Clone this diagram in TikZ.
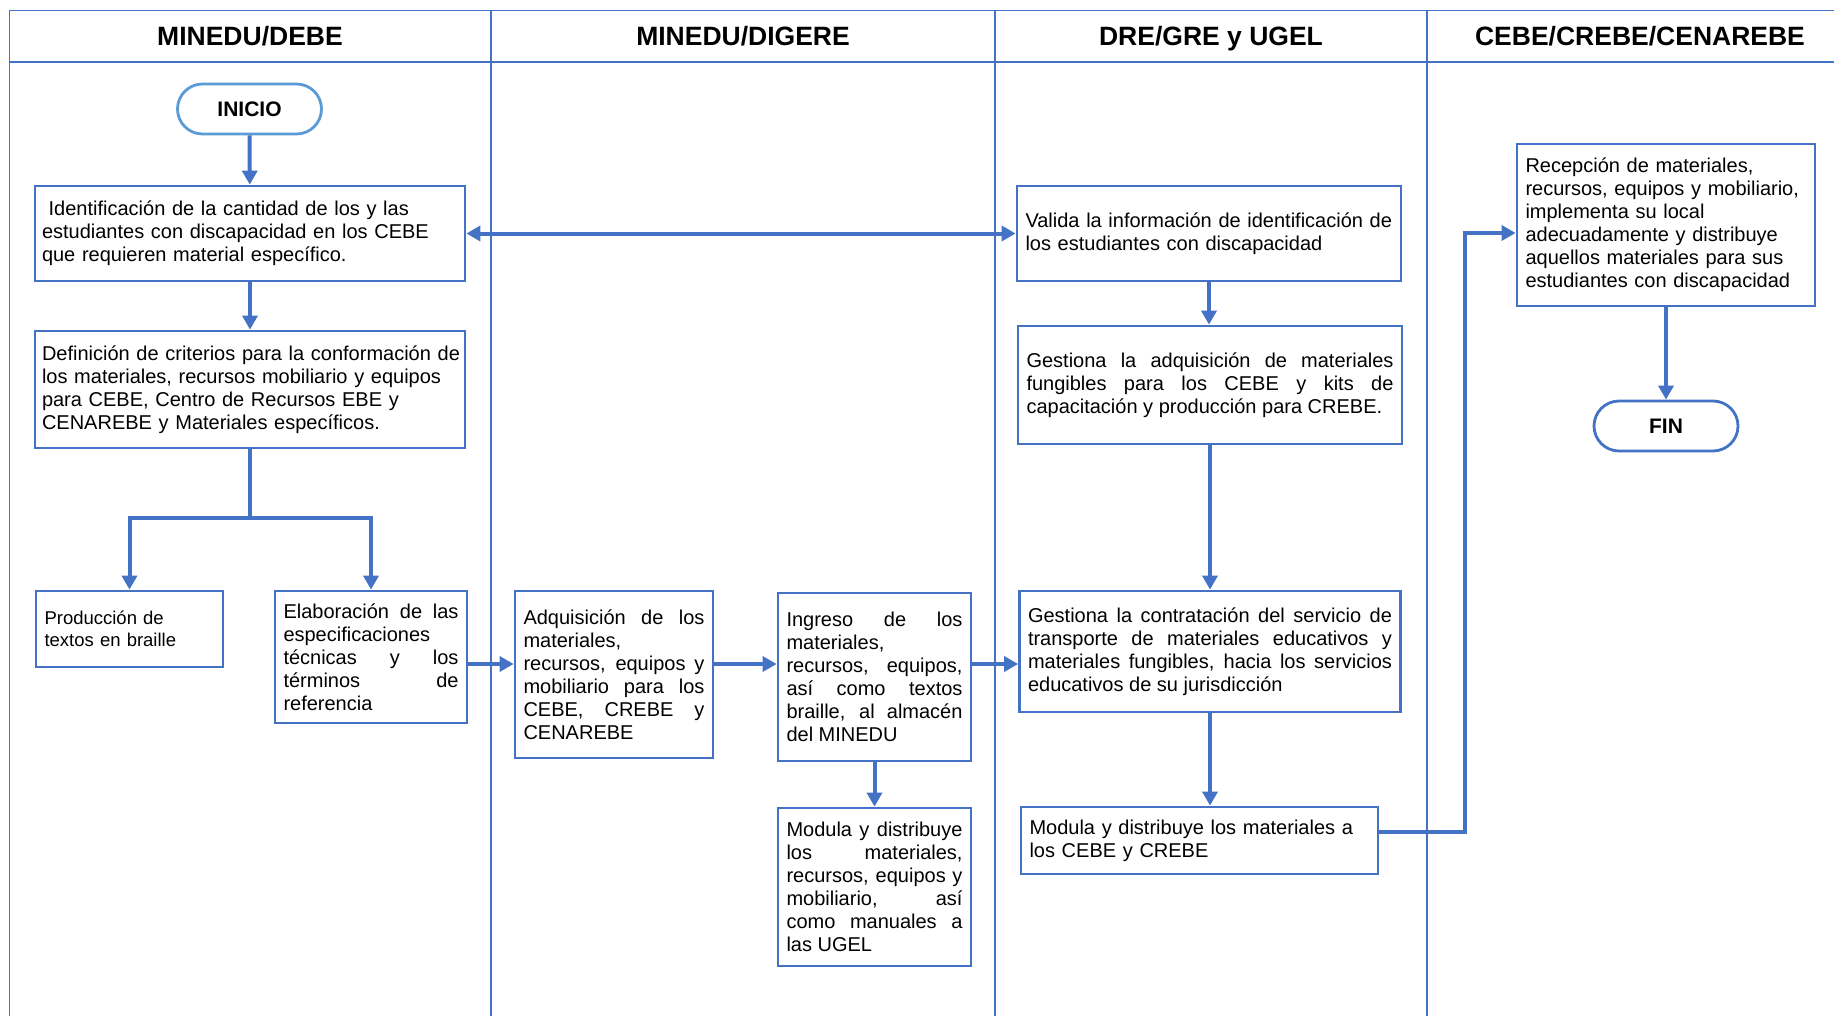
\documentclass[tikz,border=0pt]{standalone}
\usepackage{fontspec}
\setmainfont{Liberation Sans}
\usepackage{tikz}
\usetikzlibrary{arrows.meta}
\definecolor{laneblue}{HTML}{4472C4}
\definecolor{startblue}{HTML}{5B9BD5}
\tolerance=10000
\hbadness=10000
\hyphenpenalty=10000
\exhyphenpenalty=10000

\begin{document}
\begin{tikzpicture}[x=0.5pt,y=-0.5pt,
  lane/.style={draw=laneblue,line width=0.9pt},
  lanehead/.style={anchor=base,font=\bfseries\fontsize{13.25}{15}\selectfont},
  stepbox/.style={draw=laneblue,line width=1.4pt,fill=white,inner xsep=4.25pt,inner ysep=2pt,font=\fontsize{10}{11.5}\selectfont},
  jbox/.style={stepbox,align=justify},
  lbox/.style={stepbox,align=left},
  terminal/.style={draw=laneblue,line width=1.4pt,fill=white,rounded corners=12.5pt,minimum width=72pt,minimum height=25pt,font=\bfseries\fontsize{10.5}{12}\selectfont},
  flow/.style={draw=laneblue,line width=2pt,-{Triangle[length=7pt,width=7.5pt]}},
  both/.style={flow,{Triangle[length=7pt,width=7.5pt]}-{Triangle[length=7pt,width=7.5pt]}}]
\useasboundingbox (0,0) rectangle (1834,1016);

\draw [lane] (9.5,1016) -- (9.5,10.5) -- (1834,10.5);
\draw [lane] (9.5,62) -- (1834,62);
\draw [lane] (491,10.5) -- (491,1016);
\draw [lane] (995,10.5) -- (995,1016);
\draw [lane] (1427,10.5) -- (1427,1016);
\node [lanehead] (debe) at (250,45.5) {MINEDU/DEBE};
\node [lanehead] (digere) at (743,45.5) {MINEDU/DIGERE};
\node [lanehead] (ugel) at (1211,45.5) {DRE/GRE y UGEL};
\node [lanehead] (cebe) at (1640,45.5) {CEBE/CREBE/CENAREBE};

\node [terminal,draw=startblue] (inicio) at (249.5,109) {INICIO};
\node [lbox,text width=208pt,inner xsep=3.5pt,minimum height=47.5pt] (ident) at (250,233.5) {\ Identificación de la cantidad de los y las\\estudiantes con discapacidad en los CEBE\\que requieren material específico.};
\node [lbox,text width=208pt,inner xsep=3.5pt,minimum height=58.5pt] (defin) at (250,389.5) {\mbox{Definición de criterios para la conformación de}\\los materiales, recursos mobiliario y equipos\\para CEBE, Centro de Recursos EBE y\\CENAREBE y Materiales específicos.};
\node [lbox,text width=85pt,minimum height=38pt,font=\fontsize{9.25}{10.85}\selectfont] (prod) at (129.5,629) {Producción de\\textos en braille};
\node [jbox,text width=87.5pt,minimum height=66pt] (elab) at (371,657) {Elaboración de las\linebreak especificaciones\newline técnicas y los\linebreak términos de\linebreak referencia};
\node [jbox,text width=90.5pt,minimum height=83.5pt] (adq) at (614,674.5) {Adquisición de los\linebreak materiales,\newline recursos, equipos y\linebreak mobiliario para los\linebreak CEBE, CREBE y\linebreak CENAREBE};
\node [jbox,text width=88pt,minimum height=84pt] (ingr) at (874.5,677) {Ingreso de los\linebreak materiales,\newline recursos, equipos,\linebreak así como textos\linebreak braille, al almacén\linebreak del MINEDU};
\node [jbox,text width=88pt,minimum height=79pt] (moddig) at (874.5,887) {Modula y distribuye\linebreak los materiales,\linebreak recursos, equipos y\linebreak mobiliario, así\linebreak como manuales a\linebreak las UGEL};
\node [lbox,text width=183.5pt,minimum height=47.5pt] (valida) at (1209,233.5) {Valida la información de identificación de\\los estudiantes con discapacidad};
\node [jbox,text width=183.5pt,minimum height=59pt] (gestadq) at (1210,385) {Gestiona la adquisición de materiales\linebreak fungibles para los CEBE y kits de\linebreak capacitación y producción para CREBE.};
\node [jbox,text width=182pt,minimum height=60.5pt] (gestcon) at (1210,651.5) {Gestiona la contratación del servicio de\linebreak transporte de materiales educativos y\linebreak materiales fungibles, hacia los servicios\linebreak educativos de su jurisdicción};
\node [lbox,text width=170pt,minimum height=33.5pt] (moddre) at (1199.5,840.5) {Modula y distribuye los materiales a\\los CEBE y CREBE};
\node [lbox,text width=140.5pt,minimum height=81pt] (recep) at (1666,225) {Recepción de materiales,\\recursos, equipos y mobiliario,\\implementa su local\\adecuadamente y distribuye\\aquellos materiales para sus\\estudiantes con discapacidad};
\node [terminal] (fin) at (1666,426) {FIN};

\coordinate (split) at (250,518);
\coordinate (row) at (0,664);
\coordinate (up) at (1465,832);
\coordinate (top) at (1465,233);
\draw [flow] (inicio) -- (ident);
\draw [flow] (ident) -- (defin);
\draw [flow] (defin) -- (split) -| (prod);
\draw [flow] (split) -| (elab);
\draw [both] (ident) -- (valida);
\draw [flow] (elab.east |- row) -- (adq.west |- row);
\draw [flow] (adq.east |- row) -- (ingr.west |- row);
\draw [flow] (ingr.east |- row) -- (gestcon.west |- row);
\draw [flow] (ingr) -- (moddig);
\draw [flow] (valida) -- (valida.south |- gestadq.north);
\draw [flow] (gestadq) -- (gestcon);
\draw [flow] (gestcon) -- (gestcon.south |- moddre.north);
\draw [flow] (moddre.east |- up) -- (up) -- (top) -- (recep.west |- top);
\draw [flow] (recep) -- (fin);
\end{tikzpicture}
\end{document}
